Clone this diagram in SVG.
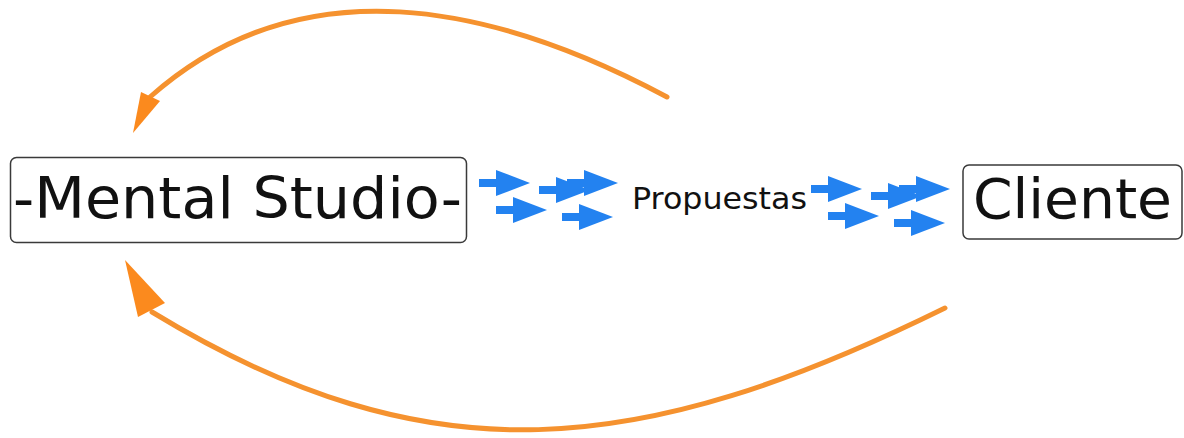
<svg xmlns="http://www.w3.org/2000/svg" xmlns:xlink="http://www.w3.org/1999/xlink" width="1184" height="438" viewBox="0 0 1184 438">
<style>
.box{fill:#fff;stroke:#3a3a3a;stroke-width:1.5}
.lbl{font-family:"DejaVu Sans",Verdana,sans-serif;fill:#111}
.arc{fill:none;stroke:#f5922f;stroke-width:5;stroke-linecap:round}
.ahead{fill:#fb8a1e}
.blue{fill:#2382f0}
</style>
<defs>
<g id="bluearrow">
<rect x="-51" y="-4" width="21" height="8" class="blue"/>
<polygon points="-34,-13 0,0 -34,13" class="blue"/>
</g>
<g id="arrowset">
<use xlink:href="#bluearrow" transform="translate(530,183)"/>
<use xlink:href="#bluearrow" transform="translate(547,210)"/>
<use xlink:href="#bluearrow" transform="translate(590,190)"/>
<use xlink:href="#bluearrow" transform="translate(618,183)"/>
<use xlink:href="#bluearrow" transform="translate(613,217)"/>
</g>
</defs>
<rect width="1184" height="438" fill="#fff"/>
<g id="connectors">
<path class="arc" d="M667,97 C493,4 301,-37 150,97"/>
<polygon class="ahead" points="141,92 160,101 133,133"/>
<path class="arc" d="M945,308 C640,458 430,481 152,312"/>
<polygon class="ahead" points="138,317 165,303 125,260"/>
<use xlink:href="#arrowset"/>
<use xlink:href="#arrowset" transform="translate(332,6)"/>
</g>
<g id="mental-studio">
<rect class="box" x="10.5" y="157.5" width="456" height="85" rx="6"/>
<text class="lbl" x="13" y="218" font-size="57" textLength="449" lengthAdjust="spacingAndGlyphs">-Mental Studio-</text>
</g>
<g id="propuestas">
<text class="lbl" x="632" y="209" font-size="31" textLength="175" lengthAdjust="spacingAndGlyphs">Propuestas</text>
</g>
<g id="cliente">
<rect class="box" x="963" y="165" width="219" height="74" rx="6"/>
<text class="lbl" x="973" y="218" font-size="56" textLength="199" lengthAdjust="spacingAndGlyphs">Cliente</text>
</g>
</svg>
